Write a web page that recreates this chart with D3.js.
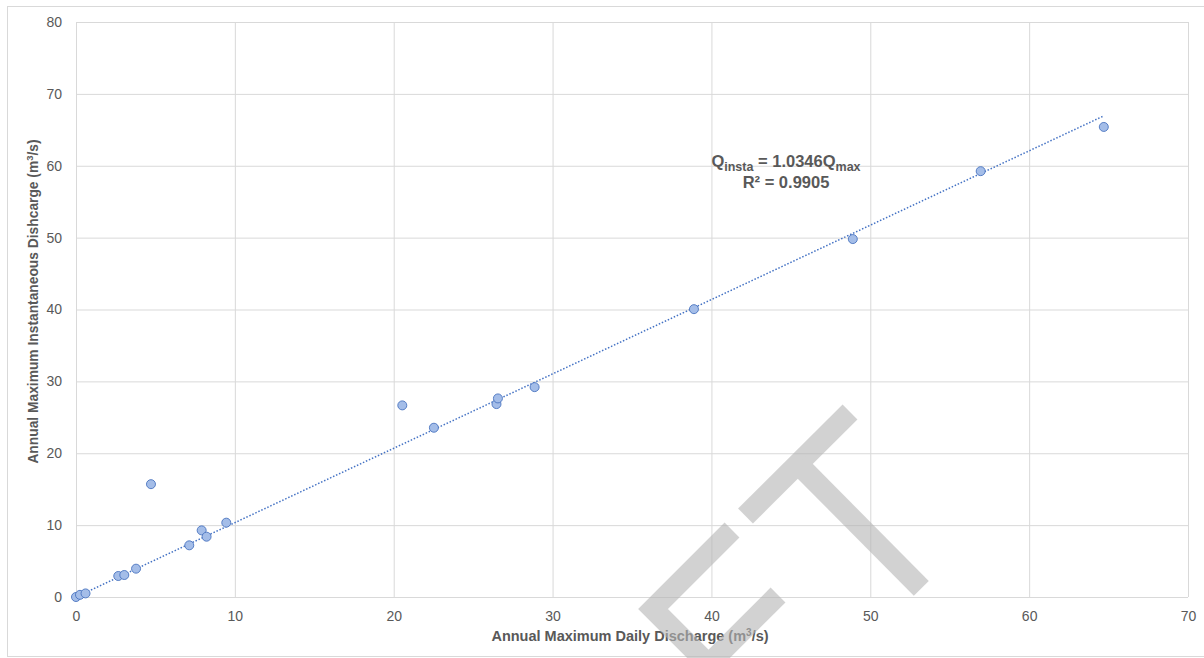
<!DOCTYPE html>
<html>
<head>
<meta charset="utf-8">
<script src="https://cdn.jsdelivr.net/npm/d3@7"></script>
<style>
  html, body { margin: 0; padding: 0; background: #fff; }
  svg { display: block; font-family: "Liberation Sans", Arial, sans-serif; }
</style>
</head>
<body>
<svg id="chart" width="1204" height="658"></svg>
<script>
// Annual maxima: daily mean discharge vs. instantaneous peak discharge (m³/s)
const dailyMax = [0.0, 0.25, 0.6, 2.66, 3.04, 3.78, 4.72, 7.13, 7.91, 8.22, 9.46,
                  20.54, 22.53, 26.47, 26.56, 28.87, 38.9, 48.9, 56.95, 64.7];
const instMax  = [0.0, 0.3, 0.5, 2.92, 3.06, 3.94, 15.7, 7.19, 9.27, 8.39, 10.34,
                  26.66, 23.55, 26.84, 27.63, 29.2, 40.05, 49.8, 59.25, 65.4];

// Linear fit through the origin
const slope = 1.0346;
const rSquared = 0.9905;

const xTicks = [0, 10, 20, 30, 40, 50, 60, 70];
const yTicks = [0, 10, 20, 30, 40, 50, 60, 70, 80];

const svg = d3.select("#chart");
const plot = { left: 76, right: 1188, top: 22, bottom: 597 };

const x = d3.scaleLinear().domain([0, 70]).range([plot.left, plot.right]);
const y = d3.scaleLinear().domain([0, 80]).range([plot.bottom, plot.top]);

const textColor = "#595959";
const gridColor = "#d9d9d9";

// Chart frame
svg.append("rect")
  .attr("x", 7.5).attr("y", 6.5)
  .attr("width", 1200).attr("height", 650)
  .attr("fill", "#fff").attr("stroke", "#d9d9d9").attr("stroke-width", 1);

// Gridlines
const gx = svg.append("g")
  .attr("transform", `translate(0,${plot.bottom})`)
  .call(d3.axisBottom(x).tickValues(xTicks).tickSize(-(plot.bottom - plot.top)).tickFormat(""));
gx.select(".domain").remove();
gx.selectAll("line").attr("stroke", gridColor);

const gy = svg.append("g")
  .attr("transform", `translate(${plot.left},0)`)
  .call(d3.axisLeft(y).tickValues(yTicks).tickSize(-(plot.right - plot.left)).tickFormat(""));
gy.select(".domain").remove();
gy.selectAll("line").attr("stroke", gridColor);

// Tick labels
const ax = svg.append("g")
  .attr("transform", `translate(0,${plot.bottom})`)
  .call(d3.axisBottom(x).tickValues(xTicks).tickSize(0).tickPadding(14).tickFormat(d3.format("d")));
ax.select(".domain").remove();
ax.selectAll("text").attr("fill", textColor).attr("font-size", 14)
  .attr("font-family", "Liberation Sans, Arial, sans-serif");

const ay = svg.append("g")
  .attr("transform", `translate(${plot.left},0)`)
  .call(d3.axisLeft(y).tickValues(yTicks).tickSize(0).tickPadding(14).tickFormat(d3.format("d")));
ay.select(".domain").remove();
ay.selectAll("text").attr("fill", textColor).attr("font-size", 14)
  .attr("font-family", "Liberation Sans, Arial, sans-serif");

// Axis titles
const xt = svg.append("text")
  .attr("x", 630).attr("y", 641)
  .attr("text-anchor", "middle")
  .attr("font-size", 14.5).attr("font-weight", "bold").attr("fill", textColor);
xt.append("tspan").text("Annual Maximum Daily Discharge (m");
xt.append("tspan").attr("font-size", 10).attr("dy", -5).text("3");
xt.append("tspan").attr("dy", 5).text("/s)");

const yt = svg.append("text")
  .attr("transform", `translate(38,${(plot.top + plot.bottom) / 2 - 8}) rotate(-90)`)
  .attr("text-anchor", "middle")
  .attr("font-size", 13.8).attr("font-weight", "bold").attr("fill", textColor);
yt.append("tspan").text("Annual Maximum Instantaneous Dishcarge (m");
yt.append("tspan").attr("font-size", 9.5).attr("dy", -5).text("3");
yt.append("tspan").attr("dy", 5).text("/s)");

// Trendline
const xMaxData = d3.max(dailyMax);
svg.append("line")
  .attr("x1", x(0)).attr("y1", y(0))
  .attr("x2", x(xMaxData)).attr("y2", y(slope * xMaxData))
  .attr("stroke", "#4472c4").attr("stroke-width", 1.5)
  .attr("stroke-dasharray", "1.5 1.8");

// Points
svg.append("g").selectAll("circle")
  .data(dailyMax.map((d, i) => [d, instMax[i]]))
  .join("circle")
  .attr("cx", d => x(d[0])).attr("cy", d => y(d[1]))
  .attr("r", 4.5)
  .attr("fill", "#a4bde8")
  .attr("stroke", "#4a74c0").attr("stroke-width", 0.9);

// Fit equation
const eq = svg.append("text")
  .attr("x", 786).attr("y", 167)
  .attr("text-anchor", "middle")
  .attr("font-size", 16.5).attr("font-weight", "bold").attr("fill", textColor);
eq.append("tspan").text("Q");
eq.append("tspan").attr("font-size", 12.5).attr("dy", 4).text("insta");
eq.append("tspan").attr("dy", -4).text(" = " + slope.toFixed(4) + "Q");
eq.append("tspan").attr("font-size", 12.5).attr("dy", 4).text("max");

svg.append("text")
  .attr("x", 786).attr("y", 188)
  .attr("text-anchor", "middle")
  .attr("font-size", 16.5).attr("font-weight", "bold").attr("fill", textColor)
  .text("R² = " + rSquared.toFixed(4));

// "ET" mark
const mark = svg.append("g").attr("opacity", 0.6)
  .attr("fill", "none").attr("stroke", "#b5b5b5").attr("stroke-width", 21)
  .attr("stroke-linecap", "butt").attr("stroke-linejoin", "miter");
mark.append("path").attr("d", "M850,412 L745.5,516");
mark.append("path").attr("d", "M798,464 L921.3,588.3");
mark.append("path").attr("d", "M732,530 L653,609 L713,669");
mark.append("path").attr("d", "M778,595 L700,673");
</script>
</body>
</html>
